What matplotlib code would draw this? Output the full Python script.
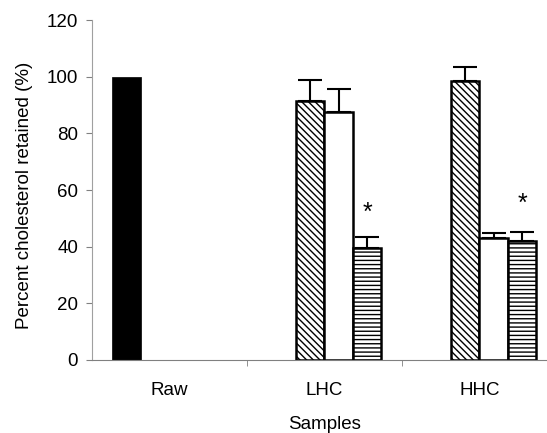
import numpy as np
import matplotlib
matplotlib.use("Agg")
import matplotlib.pyplot as plt

plt.rcParams['font.family'] = ['Liberation Sans', 'DejaVu Sans']
plt.rcParams['hatch.linewidth'] = 1.0

samples = ["Raw", "LHC", "HHC"]
# four series; Raw only has the first one
raw_vals = [100, 0, 0]
s1_vals = [0, 91.5, 98.6]
s1_err = [0, 7.2, 4.7]
s2_vals = [0, 87.6, 42.9]
s2_err = [0, 8.0, 1.8]
s3_vals = [0, 39.6, 42.0]
s3_err = [0, 3.7, 3.3]
star_y = [None, 52, 55]

fs = 13.5
fig = plt.figure(figsize=(5.47, 4.33), dpi=100)
ax = fig.add_axes([0.168, 0.1686, 0.85, 0.7852])

x = np.arange(len(samples))
w = 0.184

ax.bar(x[:1] - 1.5 * w, raw_vals[:1], w, color='black', edgecolor='black', linewidth=0.5)
ax.bar(x[1:] - 0.5 * w, s1_vals[1:], w, color='white', edgecolor='black',
       linewidth=1.8, hatch='\\\\\\\\\\')
ax.bar(x[1:] + 0.5 * w, s2_vals[1:], w, color='white', edgecolor='black', linewidth=1.8)
ax.bar(x[1:] + 1.5 * w, s3_vals[1:], w, color='white', edgecolor='black',
       linewidth=1.8, hatch='----')

for off, vals, errs in [(-0.5, s1_vals, s1_err), (0.5, s2_vals, s2_err), (1.5, s3_vals, s3_err)]:
    ax.errorbar(x[1:] + off * w, vals[1:], yerr=[np.zeros(2), errs[1:]], fmt='none',
                ecolor='black', elinewidth=1.5, capsize=8.5, capthick=1.5, zorder=1)

for i in (1, 2):
    ax.text(x[i] + 1.5 * w, star_y[i], '*', ha='center', va='center', fontsize=18)

ax.set_xlim(-0.5, 2.5)
ax.set_ylim(0, 120)
ax.set_yticks(np.arange(0, 121, 20))
ax.set_xticks(x)
ax.set_xticklabels(samples)
ax.set_xticks([0.5, 1.5], minor=True)
ax.tick_params(axis='x', which='major', length=0, pad=16, labelsize=fs)
ax.tick_params(axis='x', which='minor', length=4, color='#808080', direction='out')
ax.tick_params(axis='y', length=4, color='#808080', labelsize=fs, pad=6)

for s in ('top', 'right'):
    ax.spines[s].set_visible(False)
ax.spines['left'].set_color('#a0a0a0')
ax.spines['bottom'].set_color('#808080')

ax.set_ylabel('Percent cholesterol retained (%)', fontsize=fs)
ax.yaxis.set_label_coords(-0.127, 0.485)
ax.set_xlabel('Samples', fontsize=fs, labelpad=12)

fig.savefig('out.png', dpi=100)
